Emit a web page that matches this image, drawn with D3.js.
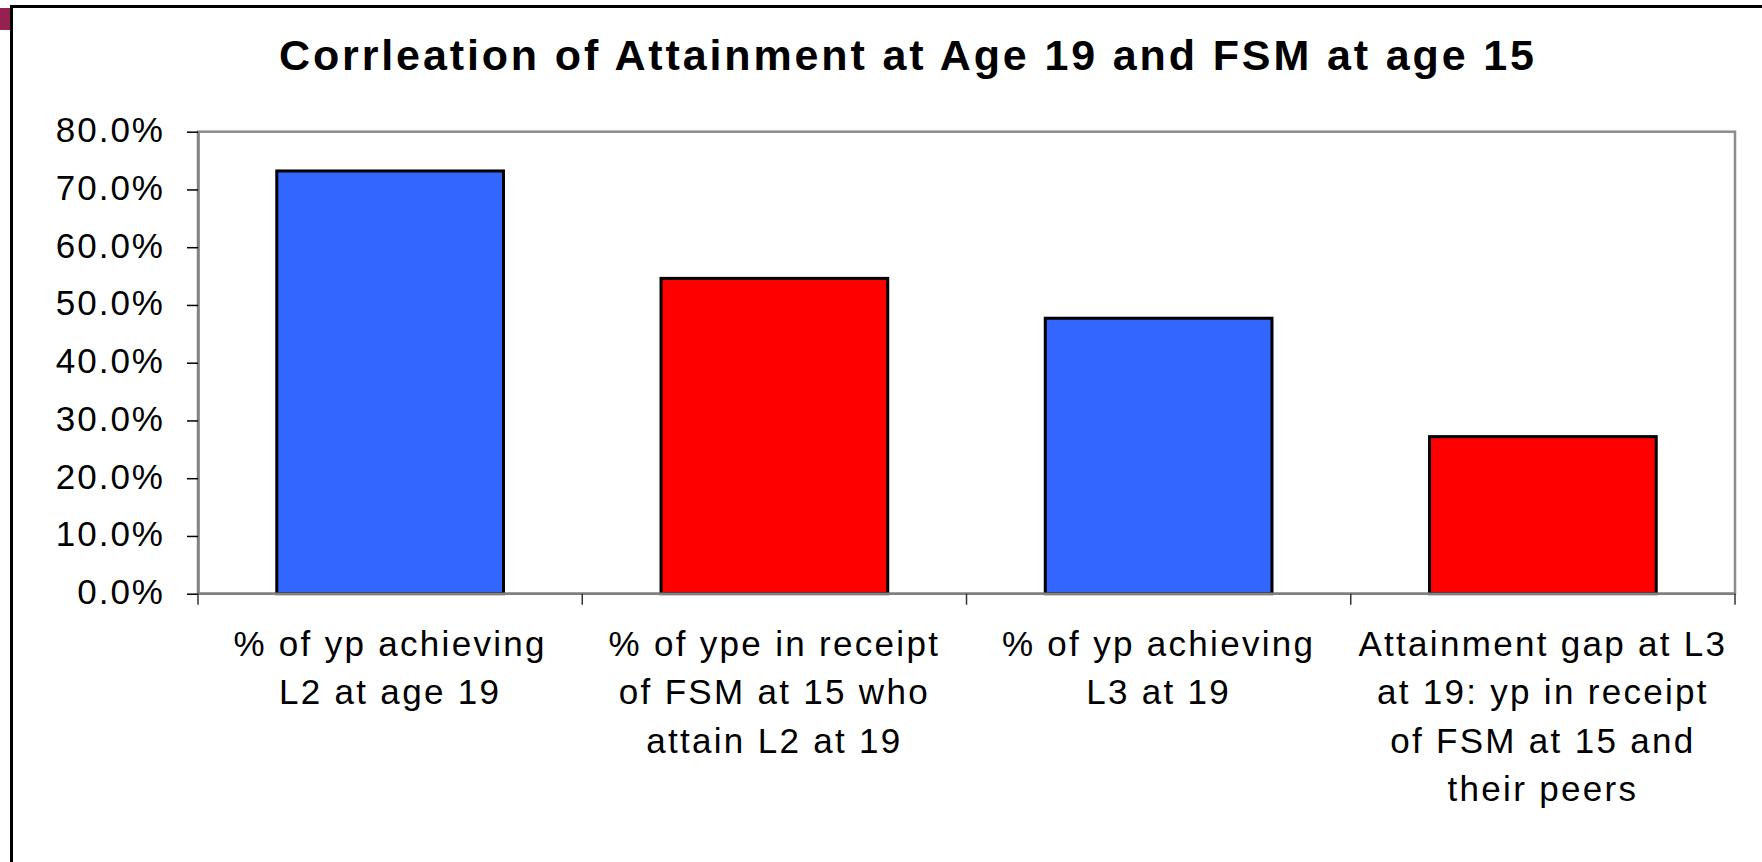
<!DOCTYPE html>
<html>
<head>
<meta charset="utf-8">
<script src="https://cdn.jsdelivr.net/npm/d3@7"></script>
<style>
    body { margin: 0; background: #fff; overflow: hidden; }
    text { font-family: "Liberation Sans", Arial, sans-serif; fill: #000; }
</style>
</head>
<body>
<svg id="chart" width="1762" height="862"></svg>
<script>
'use strict';
const title = "Corrleation of Attainment at Age 19 and FSM at age 15";

// category labels, one entry per bar, already broken into lines
const categories = [
    ["% of yp achieving", "L2 at age 19"],
    ["% of ype in receipt", "of FSM at 15 who", "attain L2 at 19"],
    ["% of yp achieving", "L3 at 19"],
    ["Attainment gap at L3", "at 19: yp in receipt", "of FSM at 15 and", "their peers"]
];
const values = [0.732, 0.546, 0.477, 0.272];
const yTicks = [0, 0.1, 0.2, 0.3, 0.4, 0.5, 0.6, 0.7, 0.8];

const barColor = d3.scaleOrdinal()
    .domain(d3.range(categories.length))
    .range(["#3366ff", "#ff0000", "#3366ff", "#ff0000"]);

let svg = d3.select("#chart"),
    plot = {left: 198, right: 1735, top: 131.7, bottom: 593.7};

// outer frame (right and bottom edges fall outside the picture)
svg.append("rect")
    .attr("x", 11.5).attr("y", 6.5)
    .attr("width", 1800).attr("height", 900)
    .attr("fill", "none")
    .attr("stroke", "#000")
    .attr("stroke-width", 3);

svg.append("rect")
    .attr("x", 0).attr("y", 8)
    .attr("width", 10).attr("height", 22)
    .attr("fill", "#962050");

svg.append("text")
    .attr("x", 279).attr("y", 70)
    .attr("font-size", 43)
    .attr("font-weight", "bold")
    .attr("textLength", 1255)
    .attr("lengthAdjust", "spacing")
    .text(title);

let x = d3.scaleBand()
    .domain(d3.range(categories.length))
    .range([plot.left, plot.right])
    .paddingInner(0.41)
    .paddingOuter(0.205);

let y = d3.scaleLinear()
    .domain([0, 0.8])
    .range([plot.bottom, plot.top]);

// plot area
svg.append("rect")
    .attr("x", plot.left).attr("y", plot.top)
    .attr("width", plot.right - plot.left)
    .attr("height", plot.bottom - plot.top)
    .attr("fill", "#fff")
    .attr("stroke", "#8c8c8c")
    .attr("stroke-width", 2.5);

svg.selectAll("rect.bar")
    .data(values)
    .enter().append("rect")
        .attr("class", "bar")
        .attr("x", (d, i) => x(i))
        .attr("y", d => y(d))
        .attr("width", x.bandwidth())
        .attr("height", d => y(0) - y(d))
        .attr("fill", (d, i) => barColor(i))
        .attr("stroke", "#000")
        .attr("stroke-width", 3);

// y axis
let yAxis = svg.append("g")
    .attr("transform", "translate(" + plot.left + ",0)")
    .call(d3.axisLeft(y).tickValues(yTicks).tickFormat(d3.format(".1%"))
        .tickSize(11).tickSizeOuter(0).tickPadding(22));
yAxis.select(".domain").attr("stroke", "#808080").attr("stroke-width", 2.5);
yAxis.selectAll(".tick line").attr("stroke", "#000").attr("stroke-width", 1.5);
yAxis.selectAll(".tick text")
    .attr("font-size", 35)
    .attr("letter-spacing", "2px")
    .attr("fill", "#000")
    .attr("dy", 10)
    .attr("font-family", "'Liberation Sans', Arial, sans-serif");

// x axis: ticks sit on the category boundaries
let step = x.step();
let boundaries = d3.range(categories.length + 1).map(i => plot.left + i * step);
let xAxis = svg.append("g");
xAxis.append("line")
    .attr("x1", plot.left).attr("x2", plot.right)
    .attr("y1", y(0)).attr("y2", y(0))
    .attr("stroke", "#808080")
    .attr("stroke-width", 2.5);
xAxis.selectAll("line.xtick")
    .data(boundaries)
    .enter().append("line")
        .attr("class", "xtick")
        .attr("x1", d => d).attr("x2", d => d)
        .attr("y1", y(0)).attr("y2", y(0) + 11)
        .attr("stroke", "#333")
        .attr("stroke-width", 1.5);

let labels = svg.selectAll("text.cat")
    .data(categories)
    .enter().append("text")
        .attr("class", "cat")
        .attr("font-size", 35)
        .attr("letter-spacing", "2.3px")
        .attr("text-anchor", "middle")
        .attr("y", 655.5);
labels.selectAll("tspan")
    .data((d, i) => d.map(line => ({line: line, i: i})))
    .enter().append("tspan")
        .attr("x", d => x(d.i) + x.bandwidth() / 2)
        .attr("dy", (d, j) => j == 0 ? 0 : 48.5)
        .text(d => d.line);
</script>
</body>
</html>
